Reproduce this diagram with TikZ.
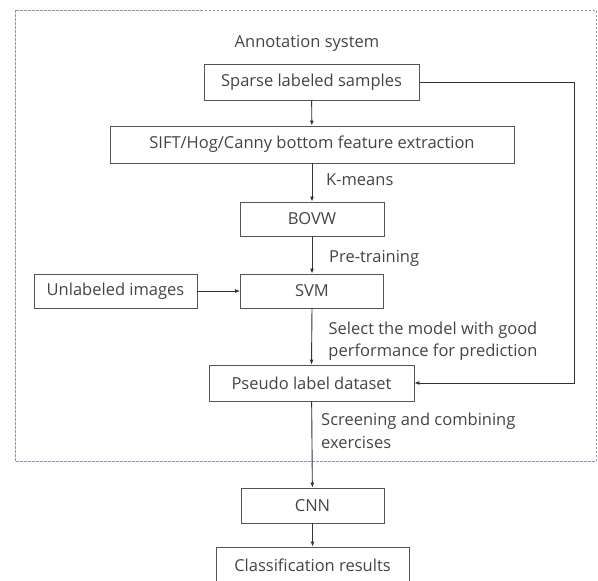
\documentclass[tikz,border=0pt]{standalone}
\usepackage{fontspec}
\setmainfont{Open Sans}
\usepackage{tikz}
\usetikzlibrary{arrows.meta}

\definecolor{boxline}{HTML}{555555}
\definecolor{txt}{HTML}{444444}
\definecolor{dashline}{HTML}{8A93A8}

\begin{document}
\begin{tikzpicture}[x=1pt,y=-1pt,>/.tip={Latex[length=5pt,width=4pt]},
  stage/.style={draw=boxline,line width=0.8pt,text=txt,inner sep=0pt,font=\fontsize{16.5}{18}\selectfont},
  note/.style={text=txt,inner sep=0pt,font=\fontsize{16.5}{22.5}\selectfont},
  flow/.style={->,draw=black!80,line width=0.9pt}]
\useasboundingbox (0,0) rectangle (598,581);
% annotation part
\draw[dashline,dashed,dash pattern=on 2.5pt off 1.5pt,line width=0.5pt] (15,10) rectangle (596,461);
\draw (307,43)    node (ann) [note] {Annotation system};
\draw (311.5,82)  node (sparse) [stage,minimum width=215pt,minimum height=36pt] {Sparse labeled samples};
\draw (312,144.5) node (sift) [stage,minimum width=404pt,minimum height=37pt] {SIFT/Hog/Canny bottom feature extraction};
\draw (312,219)   node (bovw) [stage,minimum width=144pt,minimum height=34pt] {BOVW};
\draw (312,291)   node (svm) [stage,minimum width=143pt,minimum height=34pt] {SVM};
\draw (115.5,291) node (unl) [stage,minimum width=163pt,minimum height=34pt] {Unlabeled images};
\draw (311.5,383) node (pseudo) [stage,minimum width=205pt,minimum height=36pt] {Pseudo label dataset};
% outside
\draw (312.5,505.5) node (cnn) [stage,minimum width=143pt,minimum height=35pt] {CNN};
\draw (312.5,565)   node (cls) [stage,minimum width=193pt,minimum height=36pt] {Classification results};
\coordinate (c1) at (574,82);
\coordinate (c2) at (574,383);

\draw[flow] (sparse) -- (sift);
\draw[flow] (sift) -- (bovw);
\draw[flow] (bovw) -- (svm);
\draw[flow] (unl) -- (svm);
\draw[flow] (svm.south) -- (pseudo.north);
\draw[flow] (pseudo) -- (cnn);
\draw[flow] (cnn) -- (cls);
\draw[flow] (sparse.east) -- (c1) -- (c2) -- (pseudo.east);

\node [note,anchor=west] at (326,180) {K-means};
\node [note,anchor=west] at (329,258) {Pre-training};
\node [note,align=center] at (433,341) {Select the model with good\\performance for prediction};
\node [note,align=left,anchor=west] at (321,431) {Screening and combining\\exercises};

\end{tikzpicture}
\end{document}
